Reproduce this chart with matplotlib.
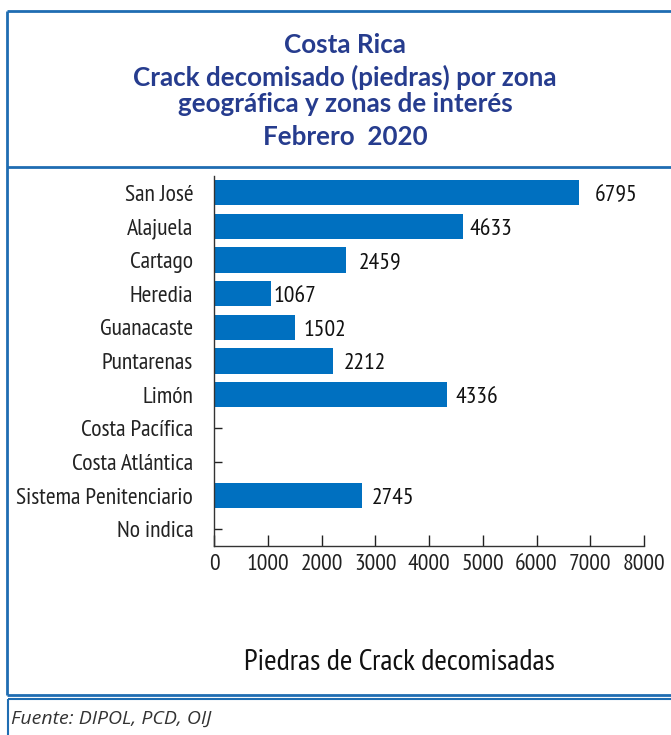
import matplotlib
matplotlib.use("Agg")
import matplotlib.pyplot as plt
from matplotlib.lines import Line2D
import logging
logging.getLogger("matplotlib.font_manager").setLevel(logging.ERROR)

categories = ["San José", "Alajuela", "Cartago", "Heredia", "Guanacaste", "Puntarenas",
              "Limón", "Costa Pacífica", "Costa Atlántica", "Sistema Penitenciario", "No indica"]
values = [6795, 4633, 2459, 1067, 1502, 2212, 4336, 0, 0, 2745, 0]
xticks = [0, 1000, 2000, 3000, 4000, 5000, 6000, 7000, 8000]
title_lines = ["Costa Rica", "Crack decomisado (piedras) por zona",
               "geográfica y zonas de interés", "Febrero  2020"]
xlabel = "Piedras de Crack decomisadas"
source = "Fuente: DIPOL, PCD, OIJ"

# label offsets in points (visual placement only)
label_pad = [11, 5, 9, 1.5, 6, 8, 6, 0, 0, 7, 0]

NARROW = ["PT Sans Narrow", "Roboto Condensed", "Fira Sans Condensed", "Archivo Narrow",
          "DejaVu Sans"]
TITLE_FONT = ["Lato", "DejaVu Sans"]
BAR = "#0070C0"
TITLE_C = "#263C8E"
BORDER = "#1F6DB2"
FS = 17

W, H = 671, 735
fig = plt.figure(figsize=(W / 100, H / 100), dpi=100)

def fx(px):
    return px / W

def fy(py):
    return 1 - py / H

ax = fig.add_axes([fx(214), fy(546), fx(644) - fx(214), fy(176) - fy(546)])
ypos = list(range(len(categories)))
ax.barh(ypos, values, height=0.75, color=BAR, zorder=2)
ax.set_ylim(len(categories) - 0.5, -0.5)
ax.set_xlim(0, 8000)
ax.set_yticks(ypos)
ax.set_yticklabels(categories, family=NARROW, fontsize=FS)
ax.set_xticks(xticks)
ax.set_xticklabels([str(t) for t in xticks], family=NARROW, fontsize=FS)
ax.tick_params(axis="y", direction="in", length=6, width=1, pad=15, colors="#222222")
ax.tick_params(axis="x", direction="in", length=8, width=1, pad=6, colors="#222222")
for s in ["top", "right"]:
    ax.spines[s].set_visible(False)
for s in ["left", "bottom"]:
    ax.spines[s].set_color("#333333")
    ax.spines[s].set_linewidth(1)

for i, v in enumerate(values):
    if v > 0:
        ax.annotate(str(v), xy=(v, i), xytext=(label_pad[i], -2), textcoords="offset points",
                    ha="left", va="center", family=NARROW, fontsize=FS, color="#111111")

# title
ys = [45, 77, 104, 137]
for t, y in zip(title_lines, ys):
    fig.text(fx(345), fy(y), t, ha="center", va="center", family=TITLE_FONT,
             fontweight="bold", fontsize=18.7, color=TITLE_C)

fig.text(fx(399), fy(662), xlabel, ha="center", va="center", family=NARROW,
         fontsize=21.8, color="#111111")
fig.text(fx(11), fy(719), source, ha="left", va="center", family=["Open Sans", "DejaVu Sans"],
         style="italic", fontsize=14, color="#333333")

# borders
def line(x0, y0, x1, y1, lw=2):
    fig.add_artist(Line2D([fx(x0), fx(x1)], [fy(y0), fy(y1)], transform=fig.transFigure,
                          color=BORDER, linewidth=lw, solid_capstyle="butt"))

line(7, 11, 680, 11)
line(7, 11, 7, 695)
line(7, 695, 680, 695)
line(7, 167, 680, 167)
line(8, 699, 680, 699, lw=1.5)
line(8, 699, 8, 740, lw=1.5)

fig.savefig("out.png", dpi=100)
